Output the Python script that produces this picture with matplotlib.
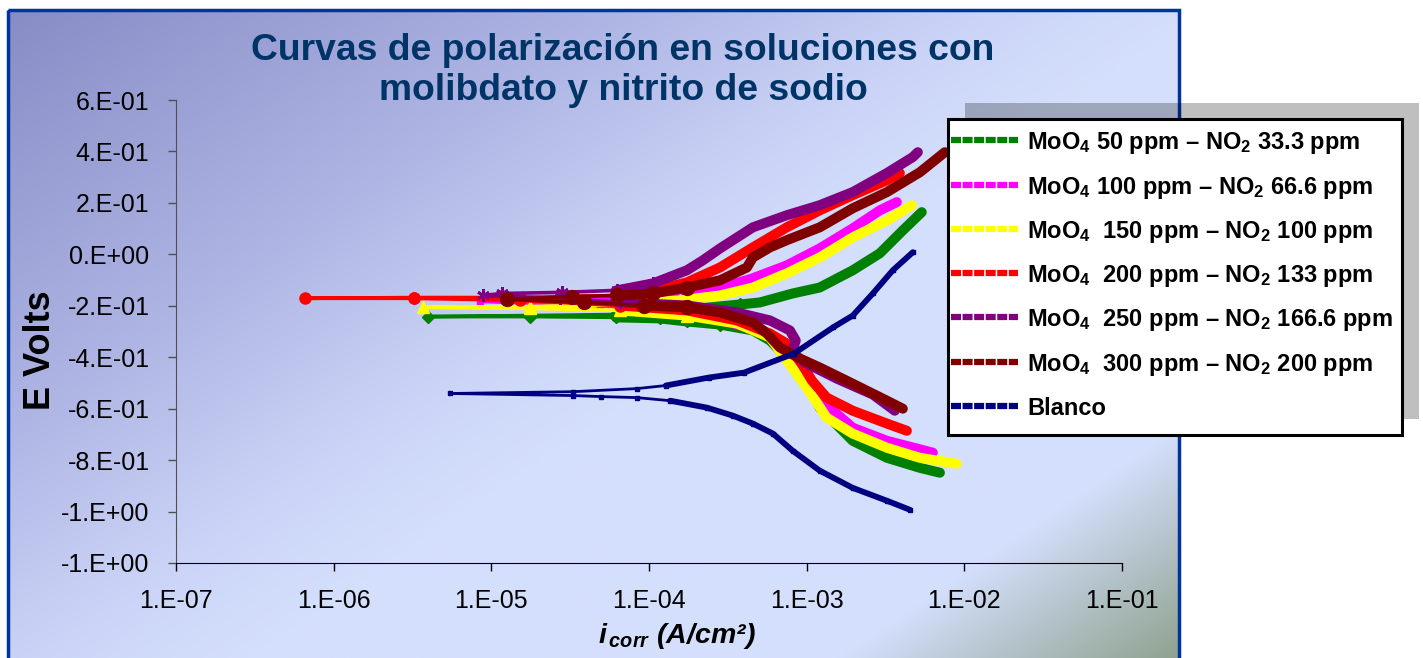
import numpy as np
import matplotlib
matplotlib.use("Agg")
import matplotlib.pyplot as plt
from matplotlib.patches import Rectangle
from matplotlib.lines import Line2D
from matplotlib.ticker import NullLocator

plt.rcParams['font.family'] = ['Liberation Sans', 'DejaVu Sans']
plt.rcParams['mathtext.fontset'] = 'custom'
plt.rcParams['mathtext.rm'] = 'Liberation Sans:bold'
plt.rcParams['mathtext.it'] = 'Liberation Sans:bold:italic'
plt.rcParams['mathtext.bf'] = 'Liberation Sans:bold'

# ---------------------------------------------------------------- data
# Each curve runs from the cathodic end, through the corrosion potential,
# to the anodic end: current density (A/cm2) and potential (V).
green_i = [7.00e-3, 5.22e-3, 3.23e-3, 1.96e-3, 1.21e-3, 1.00e-3, 7.48e-4, 5.85e-4,
           4.56e-4, 2.82e-4, 1.74e-4, 1.17e-4, 6.17e-5, 1.76e-5, 3.96e-6,
           1.76e-5, 6.17e-5, 1.17e-4, 2.10e-4, 3.77e-4, 5.05e-4, 8.17e-4, 1.21e-3,
           1.96e-3, 2.91e-3, 4.07e-3, 5.37e-3]
green_E = [-0.849, -0.830, -0.791, -0.725, -0.596, -0.491, -0.401, -0.335,
           -0.296, -0.273, -0.261, -0.249, -0.245, -0.242, -0.242,
           -0.238, -0.234, -0.226, -0.210, -0.195, -0.187, -0.152, -0.129,
           -0.062, 0.004, 0.093, 0.164]

magenta_i = [6.31e-3, 3.23e-3, 1.96e-3, 1.47e-3, 1.13e-3, 9.06e-4, 7.28e-4, 5.43e-4,
             3.26e-4, 1.57e-4, 4.89e-5, 8.47e-6,
             2.72e-5, 8.75e-5, 1.74e-4, 2.82e-4, 4.56e-4, 7.48e-4, 1.21e-3,
             1.96e-3, 2.91e-3, 3.73e-3]
magenta_E = [-0.771, -0.725, -0.674, -0.608, -0.530, -0.432, -0.355, -0.304,
             -0.265, -0.226, -0.199, -0.183,
             -0.179, -0.171, -0.152, -0.132, -0.093, -0.043, 0.023,
             0.101, 0.171, 0.203]

yellow_i = [8.95e-3, 5.22e-3, 3.23e-3, 1.96e-3, 1.34e-3, 1.00e-3, 7.48e-4, 5.85e-4,
            3.61e-4, 1.74e-4, 6.53e-5, 1.76e-5, 3.68e-6,
            1.76e-5, 6.53e-5, 1.57e-4, 2.82e-4, 4.56e-4, 7.48e-4, 1.21e-3,
            1.96e-3, 3.23e-3, 4.65e-3]
yellow_E = [-0.814, -0.791, -0.752, -0.697, -0.635, -0.518, -0.413, -0.323,
            -0.269, -0.238, -0.218, -0.210, -0.206,
            -0.203, -0.195, -0.179, -0.160, -0.129, -0.074, -0.012,
            0.066, 0.132, 0.191]

red_i = [4.32e-3, 3.23e-3, 1.96e-3, 1.34e-3, 1.08e-3, 9.06e-4, 7.48e-4, 5.85e-4,
         3.61e-4, 1.74e-4, 6.53e-5, 1.52e-5, 3.23e-6, 6.58e-7,
         3.23e-6, 1.52e-5, 6.53e-5, 1.09e-4, 1.74e-4, 2.82e-4, 4.56e-4, 7.48e-4,
         1.21e-3, 1.96e-3, 3.23e-3, 3.90e-3]
red_E = [-0.686, -0.658, -0.608, -0.557, -0.491, -0.413, -0.347, -0.308,
         -0.257, -0.218, -0.199, -0.179, -0.171, -0.171,
         -0.168, -0.168, -0.160, -0.140, -0.109, -0.051, 0.027, 0.105,
         0.171, 0.230, 0.288, 0.316]

purple_i = [3.62e-3, 2.63e-3, 1.55e-3, 9.75e-4, 8.05e-4, 8.53e-4, 7.83e-4, 5.85e-4,
            3.61e-4, 1.74e-4, 6.53e-5, 2.72e-5, 8.85e-6,
            1.17e-5, 2.81e-5, 6.25e-5, 1.06e-4, 1.74e-4, 2.20e-4, 2.82e-4, 4.56e-4,
            7.48e-4, 1.21e-3, 1.96e-3, 3.23e-3, 4.71e-3, 5.07e-3]
purple_E = [-0.608, -0.545, -0.483, -0.421, -0.382, -0.335, -0.296, -0.257,
            -0.226, -0.199, -0.187, -0.171, -0.160,
            -0.152, -0.148, -0.140, -0.113, -0.062, -0.023, 0.023, 0.105,
            0.152, 0.191, 0.242, 0.316, 0.378, 0.397]

maroon_i = [4.07e-3, 3.23e-3, 1.96e-3, 1.21e-3, 9.06e-4, 6.76e-4, 5.60e-4, 4.56e-4,
            2.82e-4, 1.74e-4, 9.27e-5, 3.86e-5, 1.26e-5,
            3.24e-5, 6.25e-5, 1.06e-4, 1.74e-4, 2.82e-4, 4.18e-4, 4.56e-4, 5.85e-4,
            7.48e-4, 1.21e-3, 1.96e-3, 3.23e-3, 5.22e-3, 7.52e-3]
maroon_E = [-0.600, -0.569, -0.503, -0.440, -0.405, -0.362, -0.308, -0.265,
            -0.226, -0.206, -0.199, -0.187, -0.175,
            -0.164, -0.160, -0.152, -0.129, -0.101, -0.051, -0.012, 0.027,
            0.055, 0.105, 0.179, 0.242, 0.319, 0.397]

blanco_i = [4.51e-3, 3.23e-3, 1.96e-3, 1.21e-3, 8.17e-4, 6.11e-4, 4.56e-4, 3.40e-4,
            2.33e-4, 1.36e-4, 8.38e-5, 4.95e-5, 3.29e-5, 5.46e-6,
            3.29e-5, 8.38e-5, 1.28e-4, 2.40e-4, 4.00e-4, 8.30e-4, 1.47e-3,
            1.96e-3, 2.63e-3, 3.52e-3, 4.71e-3]
blanco_E = [-0.993, -0.958, -0.908, -0.841, -0.764, -0.697, -0.658, -0.627,
            -0.596, -0.569, -0.557, -0.553, -0.549, -0.541,
            -0.534, -0.522, -0.510, -0.479, -0.460, -0.386, -0.284,
            -0.238, -0.152, -0.062, 0.008]

series_labels = [
    "MoO$_4$ 50 ppm – NO$_2$ 33.3 ppm",
    "MoO$_4$ 100 ppm – NO$_2$ 66.6 ppm",
    "MoO$_4$  150 ppm – NO$_2$ 100 ppm",
    "MoO$_4$  200 ppm – NO$_2$ 133 ppm",
    "MoO$_4$  250 ppm – NO$_2$ 166.6 ppm",
    "MoO$_4$  300 ppm – NO$_2$ 200 ppm",
    "Blanco",
]

x_ticks = [1e-7, 1e-6, 1e-5, 1e-4, 1e-3, 1e-2, 1e-1]
x_tick_labels = ["1.E-07", "1.E-06", "1.E-05", "1.E-04", "1.E-03", "1.E-02", "1.E-01"]
y_ticks = [-1.2, -1.0, -0.8, -0.6, -0.4, -0.2, 0.0, 0.2, 0.4, 0.6]
y_tick_labels = ["-1.E+00", "-1.E+00", "-8.E-01", "-6.E-01", "-4.E-01", "-2.E-01",
                 "0.E+00", "2.E-01", "4.E-01", "6.E-01"]

title = "Curvas de polarización en soluciones con\nmolibdato y nitrito de sodio"

# ---------------------------------------------------------------- figure
W, H = 1423, 658
fig = plt.figure(figsize=(W / 100, H / 100), dpi=100)


def fx(px):
    return px / W


def fy(py):
    return 1 - py / H


# chart-area background: diagonal gradient inside a blue frame
bg = fig.add_axes([0, 0, 1, 1], zorder=-10)
cx0, cx1, cy0, cy1 = 8, 1179, 10, 660
gx, gy = np.meshgrid(np.linspace(0, 1, 500), np.linspace(0, 1, 300))
t = 0.55 * gx + 0.45 * gy
stops = [0.0, 0.30, 0.46, 0.56, 0.84, 1.0]
stop_cols = np.array([(136, 140, 198), (176, 183, 229), (203, 212, 247),
                      (212, 223, 252), (212, 223, 252), (142, 162, 142)]) / 255
grad = np.dstack([np.interp(t, stops, stop_cols[:, k]) for k in range(3)])
bg.imshow(grad, extent=(cx0, cx1, cy1, cy0), aspect='auto', interpolation='bilinear')
bg.add_patch(Rectangle((cx0, cy0), cx1 - cx0, cy1 - cy0 + 20, fill=False,
                       ec='#0033a0', lw=2.5))
bg.set_xlim(0, W)
bg.set_ylim(H, 0)
bg.axis('off')

# plot area
ax = fig.add_axes([fx(176), fy(563), (1122 - 176) / W, (563 - 100) / H])
ax.set_facecolor('none')
ax.set_xscale('log')
ax.set_xlim(1e-7, 1e-1)
ax.set_ylim(-1.2, 0.6)
ax.set_xticks(x_ticks)
ax.set_xticklabels(x_tick_labels)
ax.xaxis.set_minor_locator(NullLocator())
ax.set_yticks(y_ticks)
ax.set_yticklabels(y_tick_labels)
ax.tick_params(axis='both', direction='out', length=6, width=1, labelsize=18,
               pad=13, colors='black')
ax.tick_params(axis='y', color='#505050')
for side in ('top', 'right'):
    ax.spines[side].set_visible(False)
ax.spines['left'].set_color('#505050')
ax.spines['bottom'].set_color('black')

# colour, marker, marker size, current where the trace turns dense,
# current above which individual markers are no longer told apart
curves = [
    (green_i, green_E, '#008000', 'D', 6, 5e-5, 4e-4),
    (magenta_i, magenta_E, '#ff00ff', 's', 5, 5e-5, 1e-4),
    (yellow_i, yellow_E, '#ffff00', '^', 8, 5e-5, 2.5e-4),
    (red_i, red_E, '#ff0000', 'o', 8, 5e-5, 1e-4),
    (purple_i, purple_E, '#800080', (6, 2, 0), 9, 5e-5, 1.5e-4),
    (maroon_i, maroon_E, '#800000', 'o', 10, 5e-5, 2.5e-4),
    (blanco_i, blanco_E, '#000080', 's', 3.5, 1e-4, 1.0),
]

for k, (ci, cE, col, mk, ms, dense_from, mark_until) in enumerate(curves):
    ci = np.asarray(ci)
    cE = np.asarray(cE)
    blank = k == len(curves) - 1
    thin_lw = 2.0 if blank else 2.6
    thick_lw = 4.2 if blank else 7.2
    ax.plot(ci, cE, color=col, lw=thin_lw, zorder=3 + k)
    dense = np.where(ci >= dense_from, cE, np.nan)
    ax.plot(ci, dense, color=col, lw=thick_lw, solid_capstyle='round',
            solid_joinstyle='round', zorder=3 + k)
    sparse = ci < mark_until
    ax.plot(ci[sparse], cE[sparse], ls='none', marker=mk, ms=ms, mfc=col, mec=col,
            mew=2 if mk == (6, 2, 0) else 1, zorder=3 + k)

# axis labels
ax.set_ylabel("E Volts", fontsize=26, fontweight='bold')
ax.yaxis.set_label_coords((41 - 176) / 946, (563 - 350) / 463)
ax.yaxis.label.set_verticalalignment('center')
ax.set_xlabel(r"$i_{\,corr}$ (A/cm²)", fontsize=20.5, fontweight='bold',
              fontstyle='italic')
ax.xaxis.set_label_coords((677 - 176) / 946, (563 - 636) / 463)
ax.xaxis.label.set_verticalalignment('center')

# title
fig.text(fx(623), fy(33), title, ha='center', va='top', fontsize=26.8,
         fontweight='bold', color='#003366', linespacing=1.2)

# legend with offset shadow
fig.add_artist(Rectangle((fx(965), fy(419)), fx(1419) - fx(965), fy(103) - fy(419),
                         transform=fig.transFigure, fc='black', alpha=0.25,
                         ec='none', zorder=20))
fig.add_artist(Rectangle((fx(948), fy(435)), fx(1402) - fx(948), fy(119) - fy(435),
                         transform=fig.transFigure, fc='white', ec='black',
                         lw=2.2, zorder=21))
row_y = [140, 185, 229, 273, 317, 362, 406]
for (ci, cE, col, *_), lab, yc in zip(curves, series_labels, row_y):
    fig.add_artist(Line2D([fx(951), fx(1018)], [fy(yc), fy(yc)],
                          transform=fig.transFigure, color=col, lw=4.5,
                          ls=(0, (1.6, 0.25)), zorder=22))
    fig.text(fx(1027), fy(yc + 9), lab, ha='left', va='baseline', fontsize=17,
             fontweight='bold', color='black', zorder=22)

fig.savefig("out.png", dpi=100)
